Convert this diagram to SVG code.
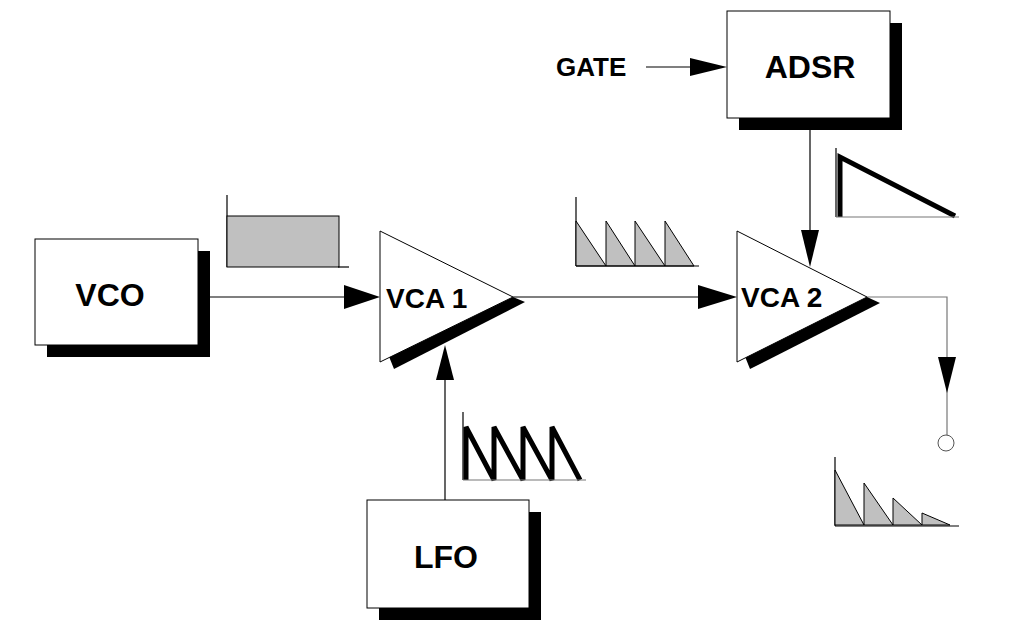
<svg xmlns="http://www.w3.org/2000/svg" width="1013" height="639" viewBox="0 0 1013 639">
<style>
.box{fill:#fff;stroke:#000;stroke-width:1}
.sh{fill:#000}
.t{font-family:"Liberation Sans",Arial,sans-serif;font-weight:bold;fill:#000}
.ln{stroke:#000;stroke-width:1.2;fill:none}
.gl{stroke:#777;stroke-width:1.2;fill:none}
.ah{fill:#000}
.wg{fill:#c0c0c0;stroke:#000;stroke-width:1}
</style>
<rect width="1013" height="639" fill="#fff"/>
<g id="connectors">
<line class="ln" x1="210" y1="297" x2="346" y2="297"/>
<polygon class="ah" points="344,285 380,297 344,309"/>
<line class="ln" x1="513" y1="297" x2="700" y2="297"/>
<polygon class="ah" points="698,285 737,297 698,309"/>
<line class="ln" x1="445" y1="500" x2="445" y2="378"/>
<polygon class="ah" points="436,380 445,345 454,380"/>
<line class="ln" x1="646" y1="67" x2="692" y2="67"/>
<polygon class="ah" points="690,58 727,67 690,76"/>
<line class="ln" x1="810" y1="130" x2="810" y2="232"/>
<polygon class="ah" points="801,230 810,267 819,230"/>
<polyline class="gl" points="867,297 947,297 947,436"/>
<polygon class="ah" points="938,357 947,393 956,357"/>
<circle cx="946" cy="443" r="8" fill="#fff" stroke="#555" stroke-width="1"/>
</g>
<g id="vco"><rect class="sh" x="47" y="251" width="163" height="106"/><rect class="box" x="35" y="239" width="163" height="106"/><text class="t" x="110" y="306" font-size="32" text-anchor="middle">VCO</text></g>
<g id="adsr"><rect class="sh" x="739" y="23" width="163" height="107"/><rect class="box" x="727" y="11" width="163" height="107"/><text class="t" x="810" y="78" font-size="32" text-anchor="middle">ADSR</text></g>
<g id="lfo"><rect class="sh" x="379" y="512" width="162" height="108"/><rect class="box" x="367" y="500" width="162" height="108"/><text class="t" x="446" y="568" font-size="32" text-anchor="middle">LFO</text></g>
<g id="gate"><text class="t" x="556" y="76" font-size="26">GATE</text></g>
<g id="vca1"><polygon class="sh" points="388,354 513,297 525,302 394,369"/><polygon class="box" points="380,231 513,297 380,362"/><text class="t" x="386" y="308" font-size="28">VCA 1</text></g>
<g id="vca2"><polygon class="sh" points="744,354 867,297 880,303 750,369"/><polygon class="box" points="737,231 867,297 737,362"/><text class="t" x="741" y="307" font-size="28">VCA 2</text></g>
<g id="waves">
<line class="ln" x1="227" y1="195" x2="227" y2="267"/>
<rect class="wg" x="227" y="216" width="112" height="51"/>
<line class="ln" x1="338" y1="267" x2="349" y2="267"/>
<line class="ln" x1="576" y1="197" x2="576" y2="266"/>
<polygon class="wg" points="576,221 606,266 606,221 635,266 635,221 665,266 665,221 694,266 576,266"/>
<line class="ln" x1="576" y1="266" x2="699" y2="266"/>
<line class="ln" x1="463" y1="412" x2="463" y2="480"/>
<polyline points="466,428 466,480 466,427 494,480 494,427 523,480 523,427 552,480 552,427 580,480" fill="none" stroke="#000" stroke-width="5"/>
<line class="gl" x1="463" y1="480" x2="586" y2="480"/>
<line class="ln" x1="836" y1="148" x2="836" y2="217"/>
<polyline points="840,217 840,157 955,216" fill="none" stroke="#000" stroke-width="5"/>
<line class="gl" x1="836" y1="217" x2="959" y2="217"/>
<line class="ln" x1="835" y1="457" x2="835" y2="526"/>
<polygon class="wg" points="835,470 864,525 864,483 893,525 893,498 922,525 922,513 950,525 835,525"/>
<line class="ln" x1="835" y1="526" x2="959" y2="526"/>
</g>
</svg>
